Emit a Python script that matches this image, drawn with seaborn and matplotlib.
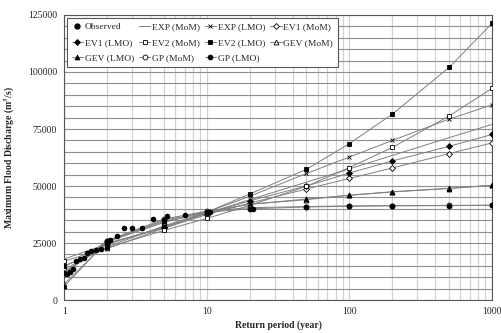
import numpy as np
import pandas as pd
import matplotlib
matplotlib.use('Agg')
import matplotlib.pyplot as plt
from matplotlib.ticker import FixedLocator, FuncFormatter, LogLocator, NullFormatter
import seaborn as sns

# Observed annual maxima (return period, discharge)
obs_T = [1.05, 1.10, 1.16, 1.22, 1.29, 1.37, 1.45, 1.55, 1.67, 1.81, 2.0, 2.1,
         2.33, 2.63, 3.0, 3.5, 4.2, 5.25, 7.0, 10.5, 21.0]
obs_Q = [11500, 12500, 13500, 17000, 18000, 18500, 20500, 21500, 22000, 22500,
         25500, 26500, 28000, 31500, 31800, 31600, 35500, 37000, 37500, 38500, 40000]

# Fitted distributions
fit_T = [1, 2, 5, 10, 20, 50, 100, 200, 500, 1000]
exp_mom = [18000, 24500, 32000, 38000, 44000, 51700, 57500, 63400, 71200, 77000]
exp_lmo = [15000, 22500, 31500, 38500, 45500, 55500, 62700, 70000, 79300, 85600]
ev1_mom = [13000, 25000, 31500, 37500, 42500, 48700, 53300, 57900, 64200, 68900]
ev1_lmo = [12000, 24500, 32000, 38000, 43500, 50000, 55700, 61000, 67400, 72600]
ev2_mom = [17000, 23000, 30500, 35800, 41500, 49900, 58100, 66900, 80700, 92800]
ev2_lmo = [14800, 23300, 32500, 38500, 46500, 57300, 68600, 81500, 102000, 121300]
gev_mom = [7000, 25500, 34000, 38500, 42000, 44000, 46000, 47500, 49000, 50300]
gev_lmo = [6000, 25800, 34500, 38800, 42000, 44300, 45900, 47400, 48900, 50300]
gp_mom = [11500, 26000, 35500, 39000, 40500, 41000, 41300, 41400, 41500, 41600]
gp_lmo = [12000, 26000, 35000, 38500, 40000, 40800, 41100, 41300, 41400, 41500]

series = [
    ('EXP (MoM)', exp_mom, None, True),
    ('EXP (LMO)', exp_lmo, 'x', True),
    ('EV1 (MoM)', ev1_mom, 'D', False),
    ('EV1 (LMO)', ev1_lmo, 'D', True),
    ('EV2 (MoM)', ev2_mom, 's', False),
    ('EV2 (LMO)', ev2_lmo, 's', True),
    ('GEV (MoM)', gev_mom, '^', False),
    ('GEV (LMO)', gev_lmo, '^', True),
    ('GP (MoM)', gp_mom, 'o', False),
    ('GP (LMO)', gp_lmo, 'o', True),
]

sns.set_style('white')
plt.rcParams['font.family'] = ['Liberation Serif', 'DejaVu Serif']
plt.rcParams['mathtext.fontset'] = 'stix'

fig = plt.figure(figsize=(5.01, 3.33), dpi=100)
ax = fig.add_axes([0.128, 0.099, 0.854, 0.856])

handles = {}
obs_df = pd.DataFrame({'T': obs_T, 'Q': obs_Q})
sns.scatterplot(data=obs_df, x='T', y='Q', ax=ax, color='black', s=16,
                edgecolor='black', linewidth=0, zorder=5)
handles['Observed'] = plt.Line2D([], [], ls='none', marker='o', ms=3.5,
                                 color='black')

for name, vals, mk, filled in series:
    df = pd.DataFrame({'T': fit_T, 'Q': vals})
    ms = 3.0 if mk == 'D' else 3.5
    sns.lineplot(data=df, x='T', y='Q', ax=ax, color='#808080', linewidth=0.7,
                 marker=mk, markersize=ms, markeredgecolor='black',
                 markeredgewidth=0.6,
                 markerfacecolor='black' if filled else 'white', zorder=4)
    handles[name] = plt.Line2D([], [], color='#808080', lw=0.7, marker=mk,
                               ms=ms, mec='black', mew=0.6,
                               mfc='black' if filled else 'white')

ax.set_xscale('log')
ax.set_xlim(1, 1000)
ax.set_ylim(0, 125000)

ax.xaxis.set_major_locator(FixedLocator([1, 10, 100, 1000]))
ax.xaxis.set_major_formatter(FuncFormatter(lambda v, p: '%d' % v))
ax.xaxis.set_minor_locator(LogLocator(base=10, subs=range(2, 10)))
ax.xaxis.set_minor_formatter(NullFormatter())
ax.set_yticks([0, 25000, 50000, 75000, 100000, 125000])
ax.yaxis.set_major_formatter(FuncFormatter(lambda v, p: '%d' % v))
ax.set_yticks(np.arange(0, 125001, 5000), minor=True)

ax.grid(which='both', axis='y', color='#8f8f8f', lw=0.8)
ax.grid(which='both', axis='x', color='#d2d2d2', lw=0.9)
ax.set_axisbelow(True)

ax.tick_params(axis='both', which='major', labelsize=7, length=3,
               direction='out', color='#555555', pad=2)
ax.tick_params(axis='both', which='minor', length=0)
for s in ax.spines.values():
    s.set_color('#555555')
    s.set_linewidth(0.8)

ax.set_xlabel('Return period (year)', fontsize=7, fontweight='bold', labelpad=3)
ax.set_ylabel('Maximum Flood Discharge (m$^\\mathbf{3}$/s)', fontsize=7,
              fontweight='bold', labelpad=8)

order = ['Observed', 'EV1 (LMO)', 'GEV (LMO)',
         'EXP (MoM)', 'EV2 (MoM)', 'GP (MoM)',
         'EXP (LMO)', 'EV2 (LMO)', 'GP (LMO)',
         'EV1 (MoM)', 'GEV (MoM)']
leg = ax.legend([handles[k] for k in order], order, ncol=4, loc='upper left',
                fontsize=6.8, frameon=True, fancybox=False, edgecolor='#555555',
                framealpha=1, handlelength=1.2, handletextpad=0.2,
                columnspacing=0.5, borderaxespad=0.3, labelspacing=0.75,
                borderpad=0.5)
leg.get_frame().set_linewidth(0.8)

fig.savefig('out.png', dpi=100)
